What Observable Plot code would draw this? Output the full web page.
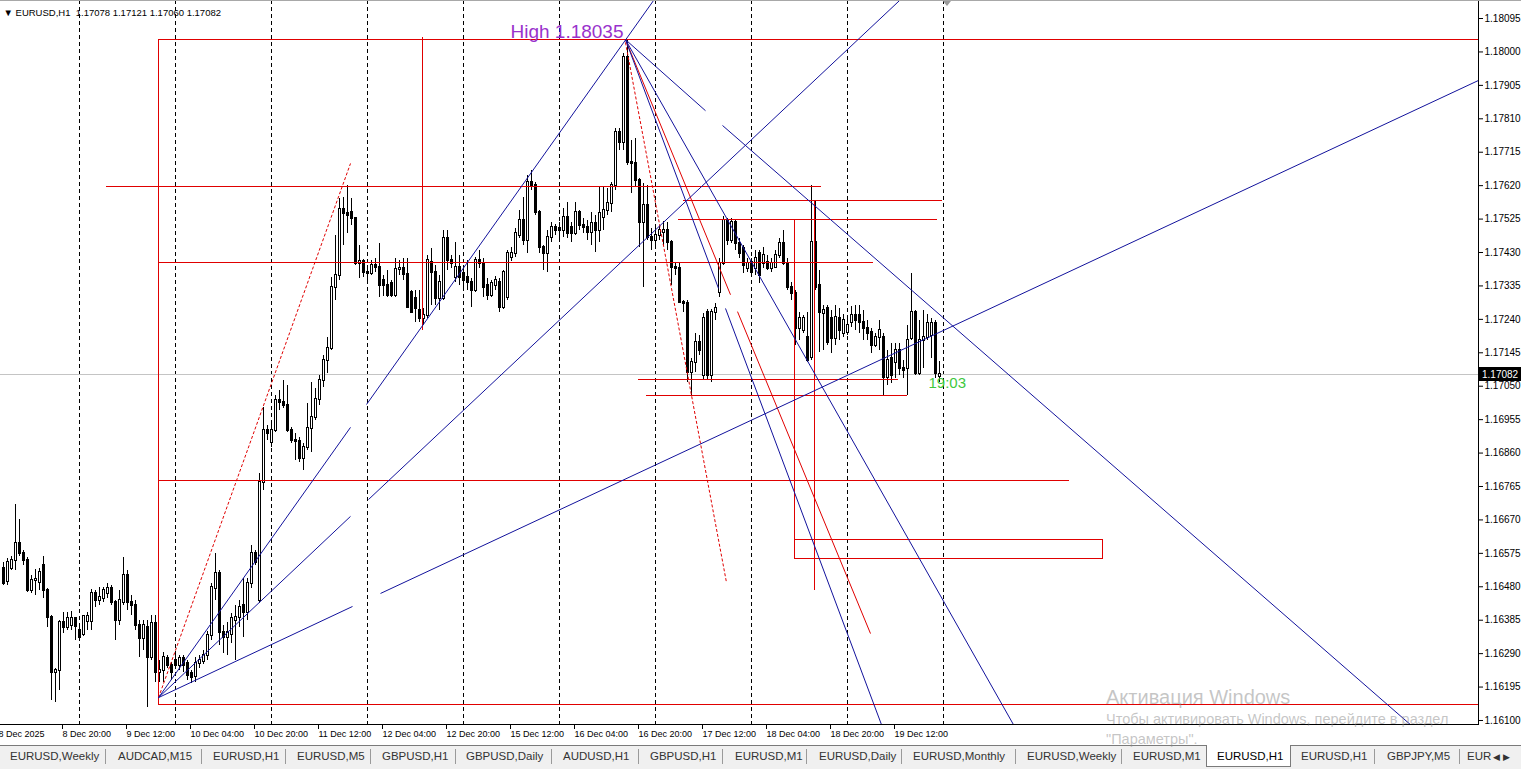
<!DOCTYPE html>
<html><head><meta charset="utf-8">
<script src="https://cdn.jsdelivr.net/npm/d3@7"></script>
<script src="https://cdn.jsdelivr.net/npm/@observablehq/plot@0.6"></script>
<style>
body{margin:0;background:#fff;}
#wrap{position:relative;width:1521px;height:769px;overflow:hidden;background:#fff;font-family:"Liberation Sans",Arial,sans-serif;}
#topline{position:absolute;left:0;top:0;width:1521px;height:1px;background:#a8a8a8;}
#tabs{position:absolute;left:0;top:745px;width:1521px;height:24px;background:#f0f0f0;border-top:1px solid #7a7a7a;box-sizing:border-box;}
.tab{position:absolute;top:4px;font-size:11.5px;color:#333;white-space:nowrap;}
.sep{position:absolute;top:3px;width:1px;height:15px;background:#9a9a9a;}
.active{position:absolute;top:-1px;height:22px;background:#fff;border:1px solid #7a7a7a;border-top:none;box-sizing:border-box;}
#wm{position:absolute;left:1106px;top:685px;color:rgba(140,140,140,0.5);pointer-events:none;white-space:nowrap;}
#wm .l1{font-size:20px;line-height:24px;}
#wm .l2{font-size:14.5px;line-height:20px;}
</style></head><body>
<div id="wrap"><div id="chart"></div><div id="topline"></div><div id="tabs"></div>
<div id="wm"><div class="l1">Активация Windows</div><div class="l2">Чтобы активировать Windows, перейдите в раздел</div><div class="l2">"Параметры".</div></div>
</div>
<script>
// ---------------- data ----------------
const symbolName = "EURUSD", timeframe = "H1";
const timerText = "19:03";

// hourly bars, index 0 = 8 Dec 05:00 ... 234 = 19 Dec 23:00
const opens = [
1.16531,1.16495,1.16531,1.16554,1.16602,1.16574,1.16554,1.16469,1.16498,1.16492,
1.16540,1.16469,1.16392,1.16236,1.16242,1.16378,1.16364,1.16370,1.16389,1.16356,
1.16345,1.16380,1.16380,1.16460,1.16441,1.16446,1.16460,1.16475,1.16435,1.16384,
1.16435,1.16512,1.16435,1.16426,1.16370,1.16333,1.16364,1.16279,1.16375,1.16236,
1.16242,1.16276,1.16256,1.16270,1.16256,1.16276,1.16262,1.16233,1.16225,1.16262,
1.16268,1.16284,1.16342,1.16475,1.16517,1.16350,1.16336,1.16345,1.16385,1.16392,
1.16426,1.16406,1.16489,1.16574,1.16441,1.16776,1.16924,1.16890,1.16924,1.17009,
1.17003,1.16995,1.16924,1.16896,1.16893,1.16845,1.16876,1.16929,1.16961,1.17012,
1.17066,1.17123,1.17157,1.17330,1.17364,1.17552,1.17541,1.17544,1.17527,1.17399,
1.17405,1.17373,1.17370,1.17393,1.17387,1.17350,1.17336,1.17342,1.17308,1.17381,
1.17384,1.17367,1.17316,1.17300,1.17265,1.17242,1.17251,1.17402,1.17373,1.17299,
1.17299,1.17470,1.17407,1.17359,1.17387,1.17370,1.17360,1.17345,1.17322,1.17407,
1.17400,1.17335,1.17308,1.17336,1.17344,1.17273,1.17302,1.17416,1.17427,1.17478,
1.17521,1.17464,1.17629,1.17620,1.17544,1.17444,1.17427,1.17473,1.17501,1.17498,
1.17492,1.17530,1.17501,1.17484,1.17544,1.17507,1.17501,1.17487,1.17512,1.17492,
1.17530,1.17549,1.17569,1.17620,1.17771,1.17742,1.17984,1.17686,1.17683,1.17634,
1.17515,1.17563,1.17473,1.17464,1.17478,1.17487,1.17492,1.17458,1.17387,1.17384,
1.17288,1.17285,1.17089,1.17117,1.17174,1.17080,1.17259,1.17080,1.17259,1.17316,
1.17399,1.17521,1.17464,1.17515,1.17456,1.17441,1.17384,1.17402,1.17384,1.17427,
1.17399,1.17402,1.17384,1.17387,1.17421,1.17456,1.17399,1.17330,1.17313,1.17214,
1.17208,1.17188,1.17132,1.17458,1.17336,1.17257,1.17271,1.17242,1.17186,1.17242,
1.17200,1.17203,1.17231,1.17251,1.17251,1.17231,1.17214,1.17203,1.17166,1.17188,
1.17188,1.17075,1.17129,1.17117,1.17151,1.17100,1.17100,1.17186,1.17259,1.17086,
1.17180,1.17188,1.17194,1.17228,1.17078];
const highs = [
1.16548,1.16560,1.16566,1.16714,1.16671,1.16583,1.16563,1.16512,1.16528,1.16531,
1.16566,1.16475,1.16398,1.16247,1.16384,1.16406,1.16406,1.16409,1.16392,1.16364,
1.16398,1.16406,1.16472,1.16469,1.16478,1.16478,1.16489,1.16484,1.16441,1.16469,
1.16563,1.16526,1.16455,1.16441,1.16384,1.16384,1.16384,1.16398,1.16398,1.16270,
1.16293,1.16284,1.16264,1.16284,1.16284,1.16284,1.16270,1.16242,1.16279,1.16284,
1.16299,1.16353,1.16489,1.16574,1.16526,1.16370,1.16378,1.16404,1.16426,1.16441,
1.16503,1.16503,1.16597,1.16583,1.16802,1.16989,1.16938,1.16944,1.17023,1.17038,
1.17066,1.17052,1.16932,1.16915,1.16904,1.16887,1.17000,1.17060,1.17043,1.17080,
1.17137,1.17188,1.17359,1.17478,1.17583,1.17586,1.17620,1.17583,1.17530,1.17450,
1.17410,1.17393,1.17407,1.17413,1.17456,1.17364,1.17379,1.17350,1.17413,1.17407,
1.17413,1.17413,1.17322,1.17322,1.17322,1.17271,1.17421,1.17441,1.17393,1.17364,
1.17492,1.17492,1.17421,1.17458,1.17421,1.17393,1.17407,1.17356,1.17416,1.17436,
1.17413,1.17356,1.17350,1.17362,1.17356,1.17379,1.17436,1.17445,1.17498,1.17549,
1.17586,1.17649,1.17663,1.17630,1.17549,1.17450,1.17492,1.17515,1.17510,1.17515,
1.17555,1.17572,1.17515,1.17572,1.17549,1.17527,1.17521,1.17544,1.17535,1.17615,
1.17615,1.17612,1.17629,1.17782,1.17782,1.17995,1.18035,1.17748,1.17754,1.17640,
1.17626,1.17620,1.17498,1.17498,1.17504,1.17518,1.17515,1.17464,1.17401,1.17399,
1.17293,1.17293,1.17129,1.17200,1.17194,1.17257,1.17268,1.17268,1.17285,1.17413,
1.17532,1.17527,1.17527,1.17521,1.17470,1.17450,1.17413,1.17413,1.17436,1.17436,
1.17444,1.17421,1.17413,1.17436,1.17470,1.17492,1.17413,1.17344,1.17322,1.17259,
1.17251,1.17259,1.17620,1.17578,1.17379,1.17279,1.17279,1.17265,1.17279,1.17271,
1.17254,1.17251,1.17276,1.17279,1.17279,1.17265,1.17237,1.17214,1.17200,1.17237,
1.17200,1.17151,1.17171,1.17171,1.17171,1.17123,1.17222,1.17370,1.17265,1.17237,
1.17265,1.17254,1.17242,1.17237,1.17121];
const lows = [
1.16484,1.16484,1.16526,1.16526,1.16566,1.16540,1.16463,1.16460,1.16455,1.16469,
1.16446,1.16364,1.16157,1.16151,1.16185,1.16347,1.16356,1.16356,1.16327,1.16327,
1.16340,1.16356,1.16356,1.16420,1.16426,1.16435,1.16446,1.16426,1.16327,1.16370,
1.16426,1.16412,1.16398,1.16356,1.16279,1.16299,1.16137,1.16270,1.16207,1.16207,
1.16207,1.16247,1.16213,1.16247,1.16242,1.16236,1.16213,1.16205,1.16207,1.16247,
1.16259,1.16270,1.16327,1.16441,1.16313,1.16290,1.16284,1.16319,1.16270,1.16364,
1.16336,1.16384,1.16475,1.16540,1.16432,1.16753,1.16896,1.16876,1.16918,1.16981,
1.16986,1.16918,1.16887,1.16839,1.16833,1.16810,1.16867,1.16862,1.16952,1.16995,
1.17046,1.17086,1.17151,1.17293,1.17350,1.17450,1.17484,1.17507,1.17393,1.17356,
1.17359,1.17350,1.17364,1.17373,1.17302,1.17305,1.17302,1.17302,1.17302,1.17364,
1.17350,1.17271,1.17256,1.17231,1.17231,1.17222,1.17242,1.17279,1.17279,1.17265,
1.17293,1.17379,1.17384,1.17344,1.17336,1.17322,1.17322,1.17273,1.17316,1.17384,
1.17302,1.17293,1.17302,1.17322,1.17259,1.17268,1.17293,1.17405,1.17416,1.17470,
1.17450,1.17427,1.17606,1.17535,1.17427,1.17379,1.17373,1.17458,1.17478,1.17458,
1.17473,1.17470,1.17458,1.17478,1.17492,1.17484,1.17464,1.17450,1.17430,1.17458,
1.17492,1.17535,1.17544,1.17606,1.17720,1.17720,1.17677,1.17597,1.17615,1.17444,
1.17330,1.17464,1.17436,1.17450,1.17464,1.17450,1.17436,1.17336,1.17364,1.17285,
1.17259,1.17060,1.17023,1.17089,1.17137,1.17066,1.17066,1.17060,1.17237,1.17302,
1.17393,1.17450,1.17456,1.17436,1.17413,1.17370,1.17373,1.17364,1.17364,1.17342,
1.17384,1.17379,1.17373,1.17384,1.17413,1.17393,1.17322,1.17293,1.17166,1.17180,
1.17200,1.17117,1.17123,1.17322,1.17146,1.17151,1.17166,1.17143,1.17166,1.17180,
1.17188,1.17194,1.17217,1.17208,1.17200,1.17180,1.17180,1.17143,1.17160,1.17151,
1.17023,1.17052,1.17058,1.17072,1.17080,1.17072,1.17023,1.17180,1.17080,1.17080,
1.17100,1.17180,1.17129,1.17072,1.17060];
const closes = [
1.16489,1.16548,1.16554,1.16602,1.16574,1.16554,1.16469,1.16498,1.16501,1.16520,
1.16469,1.16392,1.16236,1.16242,1.16378,1.16364,1.16389,1.16389,1.16367,1.16336,
1.16395,1.16395,1.16460,1.16441,1.16449,1.16469,1.16475,1.16435,1.16384,1.16441,
1.16512,1.16435,1.16426,1.16370,1.16333,1.16370,1.16279,1.16375,1.16236,1.16242,
1.16279,1.16256,1.16236,1.16256,1.16276,1.16256,1.16228,1.16222,1.16262,1.16270,
1.16284,1.16342,1.16478,1.16517,1.16350,1.16336,1.16350,1.16389,1.16392,1.16420,
1.16406,1.16489,1.16574,1.16548,1.16776,1.16924,1.16915,1.16924,1.17009,1.17003,
1.16995,1.16924,1.16896,1.16893,1.16845,1.16876,1.16929,1.16961,1.17012,1.17066,
1.17123,1.17157,1.17330,1.17364,1.17552,1.17541,1.17536,1.17527,1.17399,1.17405,
1.17373,1.17370,1.17393,1.17387,1.17336,1.17336,1.17308,1.17308,1.17381,1.17384,
1.17367,1.17273,1.17259,1.17271,1.17242,1.17251,1.17407,1.17373,1.17299,1.17344,
1.17470,1.17407,1.17399,1.17387,1.17359,1.17350,1.17345,1.17322,1.17407,1.17400,
1.17330,1.17308,1.17342,1.17350,1.17273,1.17373,1.17427,1.17427,1.17484,1.17521,
1.17464,1.17629,1.17620,1.17544,1.17444,1.17427,1.17473,1.17501,1.17492,1.17492,
1.17530,1.17484,1.17484,1.17544,1.17507,1.17501,1.17487,1.17512,1.17492,1.17541,
1.17549,1.17569,1.17620,1.17771,1.17742,1.17984,1.17686,1.17683,1.17634,1.17515,
1.17563,1.17473,1.17464,1.17478,1.17492,1.17492,1.17458,1.17387,1.17384,1.17288,
1.17285,1.17089,1.17117,1.17174,1.17151,1.17242,1.17080,1.17259,1.17271,1.17399,
1.17521,1.17464,1.17515,1.17456,1.17427,1.17393,1.17399,1.17373,1.17413,1.17364,
1.17421,1.17384,1.17399,1.17421,1.17456,1.17399,1.17330,1.17313,1.17214,1.17242,
1.17242,1.17123,1.17458,1.17330,1.17259,1.17265,1.17174,1.17186,1.17245,1.17208,
1.17237,1.17222,1.17251,1.17237,1.17231,1.17214,1.17200,1.17166,1.17188,1.17208,
1.17075,1.17123,1.17080,1.17151,1.17100,1.17094,1.17180,1.17259,1.17086,1.17180,
1.17188,1.17228,1.17228,1.17086,1.17082];

// day starts (period separators), bar index
const daySeparatorBars = [19,43,67,91,115,139,163,187,211,235];
// time axis
const firstTimeLabel = "8 Dec 2025";
const timeTickBars = [15,31,47,63,79,95,111,127,143,159,175,191,207,223];
const timeTickLabels = ["8 Dec 20:00","9 Dec 12:00","10 Dec 04:00","10 Dec 20:00","11 Dec 12:00","12 Dec 04:00","12 Dec 20:00","15 Dec 12:00","16 Dec 04:00","16 Dec 20:00","17 Dec 12:00","18 Dec 04:00","18 Dec 20:00","19 Dec 12:00"];
// price axis
const priceTicks = [1.18095,1.18000,1.17905,1.17810,1.17715,1.17620,1.17525,1.17430,1.17335,1.17240,1.17145,1.17050,1.16955,1.16860,1.16765,1.16670,1.16575,1.16480,1.16385,1.16290,1.16195,1.16100];

// drawn objects: [barFrom, barTo, price]
const redHorizontals = [
 [38.75, 400, 1.18035],[38.75, 400, 1.16143],[25.75, 204.5, 1.17615],[38.75, 217.5, 1.17399],
 [38.75, 266.5, 1.16782],[170.0, 234.75, 1.17575],[168.75, 233.5, 1.17521],[158.75, 223.75, 1.17069],[160.75, 226.0, 1.17023]];
// [bar, priceFrom, priceTo]
const redVerticals = [[38.75, 1.16143, 1.18035],[104.75, 1.17208, 1.18041],[197.75, 1.16560, 1.17521],[202.75, 1.16469, 1.17575]];
// [bar1, price1, bar2, price2]
const redSolidLines = [[155.5, 1.18035, 181.75, 1.17310],[183.5, 1.17262, 216.75, 1.16347]];
const redDashedLines = [[38.75, 1.16165, 86.75, 1.17683],[155.5, 1.18027, 180.75, 1.16492]];
const redRectangles = [[197.75, 274.75, 1.16560, 1.16614]];
const blueLines = [
 [38.75, 1.16165, 86.75, 1.16933],[90.75, 1.16998, 162.5, 1.18146],
 [38.75, 1.16165, 86.75, 1.16680],[91.25, 1.16728, 224.0, 1.18146],
 [38.75, 1.16165, 87.25, 1.16424],[94.25, 1.16461, 368.75, 1.17919],
 [155.5, 1.18035, 178.75, 1.17328],[180.5, 1.17271, 219.5, 1.16088],
 [155.5, 1.18035, 252.5, 1.16088],
 [155.5, 1.18035, 175.5, 1.17833],[179.75, 1.17791, 351.75, 1.16088]];

const tabNames = ["EURUSD,Weekly","AUDCAD,M15","EURUSD,H1","EURUSD,M5","GBPUSD,H1","GBPUSD,Daily","AUDUSD,H1","GBPUSD,H1","EURUSD,M1","EURUSD,Daily","EURUSD,Monthly","EURUSD,Weekly","EURUSD,M1","EURUSD,H1","EURUSD,H1","GBPJPY,M5","EUR"];
const activeTab = 13;

// ---------------- build ----------------
const bars = opens.map((o, i) => ({i, o, h: highs[i], l: lows[i], c: closes[i]}));
const bull = bars.filter(d => d.c >= d.o);
const bear = bars.filter(d => d.c < d.o);
const last = bars[bars.length - 1];
const hiBar = bars.reduce((a, b) => (b.h > a.h ? b : a));
const segs = arr => arr.map(([x1, y1, x2, y2]) => ({x1, y1, x2, y2}));
const hSegs = redHorizontals.map(([x1, x2, p]) => ({x1, x2, y1: p, y2: p}));
const vSegs = redVerticals.map(([x, p1, p2]) => ({x1: x, x2: x, y1: p1, y2: p2}));
const rects = redRectangles.map(([x1, x2, y1, y2]) => ({x1, x2, y1, y2}));
const f5 = v => v.toFixed(5);
const header = `▼ ${symbolName},${timeframe}  ${f5(last.o)} ${f5(last.h)} ${f5(last.l)} ${f5(last.c)}`;

const RED = "#e00000", BLUE = "#12129c";
const FONT = "Liberation Sans, Arial, sans-serif";
const crisp = "crispEdges";

const chart = Plot.plot({
  width: 1521, height: 745,
  marginLeft: 0, marginRight: 43, marginTop: 0, marginBottom: 21,
  style: {fontFamily: FONT, background: "white", color: "black"},
  x: {domain: [-0.75, 368.75], axis: null},
  y: {domain: [1.160886, 1.181462], axis: null},
  marks: [
    Plot.ruleX(daySeparatorBars, {stroke: "black", strokeDasharray: "4,3", shapeRendering: crisp}),
    Plot.ruleY([last.c], {stroke: "#c4c4c4", shapeRendering: crisp}),
    Plot.ruleX(bars, {x: "i", y1: "l", y2: "h", stroke: "black", shapeRendering: crisp}),
    Plot.rect(bull, {x1: d => d.i - 0.125, x2: d => d.i + 0.375, y1: "o", y2: "c", fill: "white", stroke: "black", insetTop: -0.5, insetBottom: -0.5, shapeRendering: crisp}),
    Plot.rect(bear, {x1: d => d.i - 0.125, x2: d => d.i + 0.375, y1: "o", y2: "c", fill: "black", stroke: "black", insetTop: -0.5, insetBottom: -0.5, shapeRendering: crisp}),
    // 1-px horizontal / vertical object lines drawn as thin filled rects (crisp)
    Plot.rect(hSegs, {x1: "x1", x2: "x2", y1: "y1", y2: "y2", fill: RED, insetTop: -0.5, insetBottom: -0.5, shapeRendering: crisp, clip: true}),
    Plot.rect(vSegs, {x1: "x1", x2: "x2", y1: "y1", y2: "y2", fill: RED, insetLeft: -0.5, insetRight: -0.5, shapeRendering: crisp, clip: true}),
    Plot.rect(rects, {x1: "x1", x2: "x2", y1: "y1", y2: "y2", fill: "none", stroke: RED, shapeRendering: crisp}),
    Plot.link(segs(redSolidLines), {x1: "x1", x2: "x2", y1: "y1", y2: "y2", stroke: RED, clip: true}),
    Plot.link(segs(redDashedLines), {x1: "x1", x2: "x2", y1: "y1", y2: "y2", stroke: RED, strokeDasharray: "3,2", clip: true}),
    Plot.link(segs(blueLines), {x1: "x1", x2: "x2", y1: "y1", y2: "y2", stroke: BLUE, clip: true}),
    Plot.text([`High ${f5(hiBar.h)}`], {x: hiBar.i, y: hiBar.h, dx: -4, dy: -8, textAnchor: "end", fill: "#9932cc", fontSize: 19, fontFamily: FONT}),
    Plot.text([timerText], {x: last.i, y: last.c, dx: -11, dy: 8.5, textAnchor: "start", fill: "#3ec83e", fontSize: 15, fontFamily: FONT}),
    Plot.text([header], {frameAnchor: "top-left", dx: 3, dy: 12, lineAnchor: "middle", textAnchor: "start", fontSize: 9.5, fill: "black", fontFamily: FONT}),
    Plot.axisY(priceTicks, {anchor: "right", tickSize: 4, tickPadding: 2, fontSize: 10, tickFormat: f5}),
    Plot.axisX(timeTickBars, {anchor: "bottom", tickSize: 5, tickPadding: 1, fontSize: 9, textAnchor: "start", dx: -1, tickFormat: d => timeTickLabels[timeTickBars.indexOf(d)]}),
    Plot.axisX([0], {anchor: "bottom", tickSize: 0, tickPadding: 6, fontSize: 9, textAnchor: "start", dx: -5, tickFormat: () => firstTimeLabel})
  ]
});
document.getElementById("chart").appendChild(chart);

// frame lines, last-price box, shift marker (from the plot scales)
const svg = d3.select(chart);
const xs = chart.scale("x"), ys = chart.scale("y");
const xRight = xs.range[1], yBottom = ys.range[0];
svg.append("line").attr("x1", xRight + 0.5).attr("x2", xRight + 0.5).attr("y1", 0).attr("y2", yBottom + 1).attr("stroke", "black");
svg.append("line").attr("x1", 0).attr("x2", xRight + 1).attr("y1", yBottom + 0.5).attr("y2", yBottom + 0.5).attr("stroke", "black");
const ly = Math.round(ys.apply(last.c));
svg.append("rect").attr("x", xRight + 1).attr("y", ly - 7).attr("width", 43).attr("height", 14).attr("fill", "black");
svg.append("text").attr("x", xRight + 4).attr("y", ly).attr("dy", "0.35em").attr("text-anchor", "start")
  .attr("fill", "white").attr("font-size", 10).attr("font-family", FONT).text(f5(last.c));
const sx = xs.apply(last.i + 2);
svg.append("path").attr("d", `M${sx - 4},1L${sx + 4},1L${sx},6Z`).attr("fill", "#9a9a9a");

// tab bar
const tabLeft = [10,118,213,297,382,466,563,650,735,819,913,1027,1133,1217,1301,1387,1467];
const sepLeft = [105,201,285,370,455,551,638,722,806,901,1015,1121,1374,1459];
const tabs = document.getElementById("tabs");
const act = document.createElement("div");
act.className = "active"; act.style.left = "1206px"; act.style.width = "85px";
tabs.appendChild(act);
sepLeft.forEach(x => { const s = document.createElement("div"); s.className = "sep"; s.style.left = x + "px"; tabs.appendChild(s); });
tabNames.forEach((t, k) => {
  const s = document.createElement("div"); s.className = "tab"; s.style.left = tabLeft[k] + "px";
  if (k === activeTab) s.style.color = "#000";
  s.textContent = t; tabs.appendChild(s);
});
const arrows = document.createElement("div"); arrows.className = "tab"; arrows.style.left = "1493px"; arrows.style.fontSize = "9px"; arrows.style.top = "6px";
arrows.textContent = "◀  ▶"; tabs.appendChild(arrows);
</script>
</body></html>
